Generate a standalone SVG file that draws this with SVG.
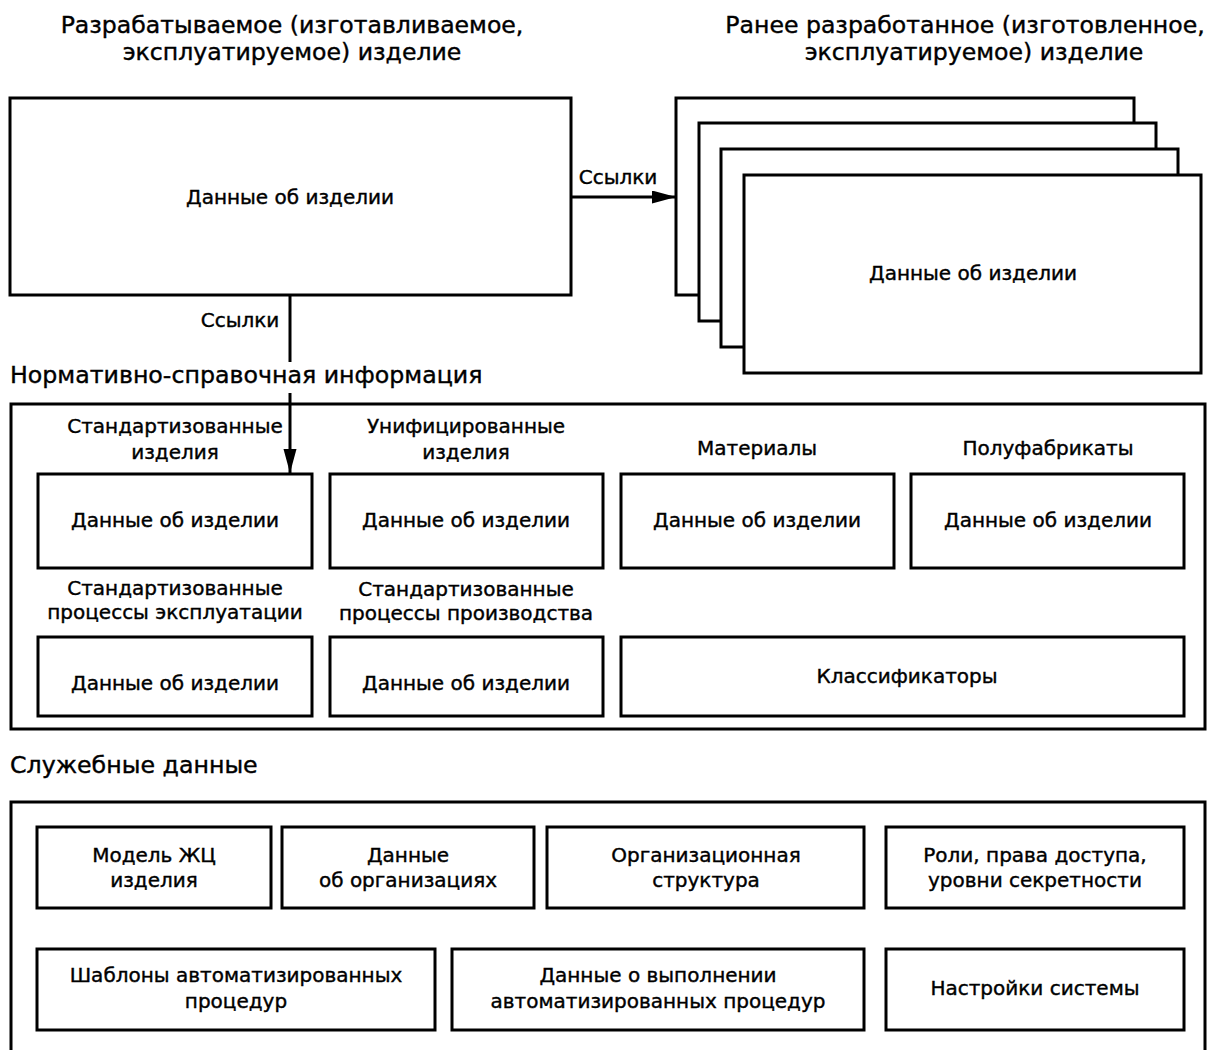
<svg xmlns="http://www.w3.org/2000/svg" width="1208" height="1050" viewBox="0 0 1208 1050">
<style>
text{font-family:"DejaVu Sans",sans-serif;fill:#000;text-anchor:middle;dominant-baseline:central;stroke:#000;stroke-width:0.4}
.t{font-size:23.6px}
.h{font-size:23.7px;text-anchor:start}
.b{font-size:20px}
.l{font-size:20px}
rect{fill:#fff;stroke:#000;stroke-width:3}
.c{fill:none;stroke:#000;stroke-width:3}
</style>
<defs>
<marker id="av" markerWidth="24" markerHeight="24" refX="24" refY="6.5" orient="auto" markerUnits="userSpaceOnUse">
<path d="M0,0 L24,6.5 L0,13 Z" fill="#000"/>
</marker>
</defs>
<rect x="0" y="0" width="1208" height="1050" style="stroke:none"/>

<g id="title-left">
<text class="t" x="292" y="25">Разрабатываемое (изготавливаемое,</text>
<text class="t" x="292" y="52">эксплуатируемое) изделие</text>
</g>
<g id="title-right">
<text class="t" x="965" y="25">Ранее разработанное (изготовленное,</text>
<text class="t" x="974" y="52">эксплуатируемое) изделие</text>
</g>

<g id="current-product">
<rect x="10" y="98" width="561" height="197"/>
<text class="b" x="290" y="197">Данные об изделии</text>
</g>

<g id="previous-products">
<rect x="676" y="98" width="458" height="197"/>
<rect x="699" y="123" width="457" height="198"/>
<rect x="721" y="149" width="457" height="198"/>
<rect x="744" y="175" width="457" height="198"/>
<text class="b" x="973" y="273">Данные об изделии</text>
</g>

<g id="nsi">
<text class="h" x="10" y="375">Нормативно-справочная информация</text>
<rect x="11" y="404" width="1194" height="325"/>
<g id="std-products">
<text class="l" x="175" y="426">Стандартизованные</text>
<text class="l" x="175" y="452">изделия</text>
<rect x="38" y="474" width="274" height="94"/>
<text class="b" x="175" y="520">Данные об изделии</text>
</g>
<g id="unified-products">
<text class="l" x="466" y="426">Унифицированные</text>
<text class="l" x="466" y="452">изделия</text>
<rect x="330" y="474" width="273" height="94"/>
<text class="b" x="466" y="520">Данные об изделии</text>
</g>
<g id="materials">
<text class="l" x="757" y="448">Материалы</text>
<rect x="621" y="474" width="273" height="94"/>
<text class="b" x="757" y="520">Данные об изделии</text>
</g>
<g id="semi-products">
<text class="l" x="1048" y="448">Полуфабрикаты</text>
<rect x="911" y="474" width="273" height="94"/>
<text class="b" x="1048" y="520">Данные об изделии</text>
</g>
<g id="std-operation">
<text class="l" x="175" y="588">Стандартизованные</text>
<text class="l" x="175" y="612">процессы эксплуатации</text>
<rect x="38" y="637" width="274" height="79"/>
<text class="b" x="175" y="683">Данные об изделии</text>
</g>
<g id="std-production">
<text class="l" x="466" y="589">Стандартизованные</text>
<text class="l" x="466" y="613">процессы производства</text>
<rect x="330" y="637" width="273" height="79"/>
<text class="b" x="466" y="683">Данные об изделии</text>
</g>
<g id="classifiers">
<rect x="621" y="637" width="563" height="79"/>
<text class="b" x="907" y="676">Классификаторы</text>
</g>
</g>

<g id="service">
<text class="h" x="10" y="765">Служебные данные</text>
<rect x="11" y="802" width="1194" height="270"/>
<g id="lc-model">
<rect x="37" y="827" width="234" height="81"/>
<text class="b" x="154" y="855">Модель ЖЦ</text>
<text class="b" x="154" y="880">изделия</text>
</g>
<g id="org-data">
<rect x="282" y="827" width="252" height="81"/>
<text class="b" x="408" y="855">Данные</text>
<text class="b" x="408" y="880">об организациях</text>
</g>
<g id="org-structure">
<rect x="547" y="827" width="317" height="81"/>
<text class="b" x="706" y="855">Организационная</text>
<text class="b" x="706" y="880">структура</text>
</g>
<g id="roles">
<rect x="886" y="827" width="298" height="81"/>
<text class="b" x="1035" y="855">Роли, права доступа,</text>
<text class="b" x="1035" y="880">уровни секретности</text>
</g>
<g id="templates">
<rect x="37" y="949" width="398" height="81"/>
<text class="b" x="236" y="975">Шаблоны автоматизированных</text>
<text class="b" x="236" y="1001">процедур</text>
</g>
<g id="execution-data">
<rect x="452" y="949" width="412" height="81"/>
<text class="b" x="658" y="975">Данные о выполнении</text>
<text class="b" x="658" y="1001">автоматизированных процедур</text>
</g>
<g id="settings">
<rect x="886" y="949" width="298" height="81"/>
<text class="b" x="1035" y="988">Настройки системы</text>
</g>
</g>

<g id="connectors">
<line class="c" x1="571" y1="197" x2="676" y2="197" marker-end="url(#av)"/>
<text class="l" x="618" y="177">Ссылки</text>
<line class="c" x1="290" y1="295" x2="290" y2="362"/>
<line class="c" x1="290" y1="393" x2="290" y2="473" marker-end="url(#av)"/>
<text class="l" x="240" y="320">Ссылки</text>
</g>
</svg>
